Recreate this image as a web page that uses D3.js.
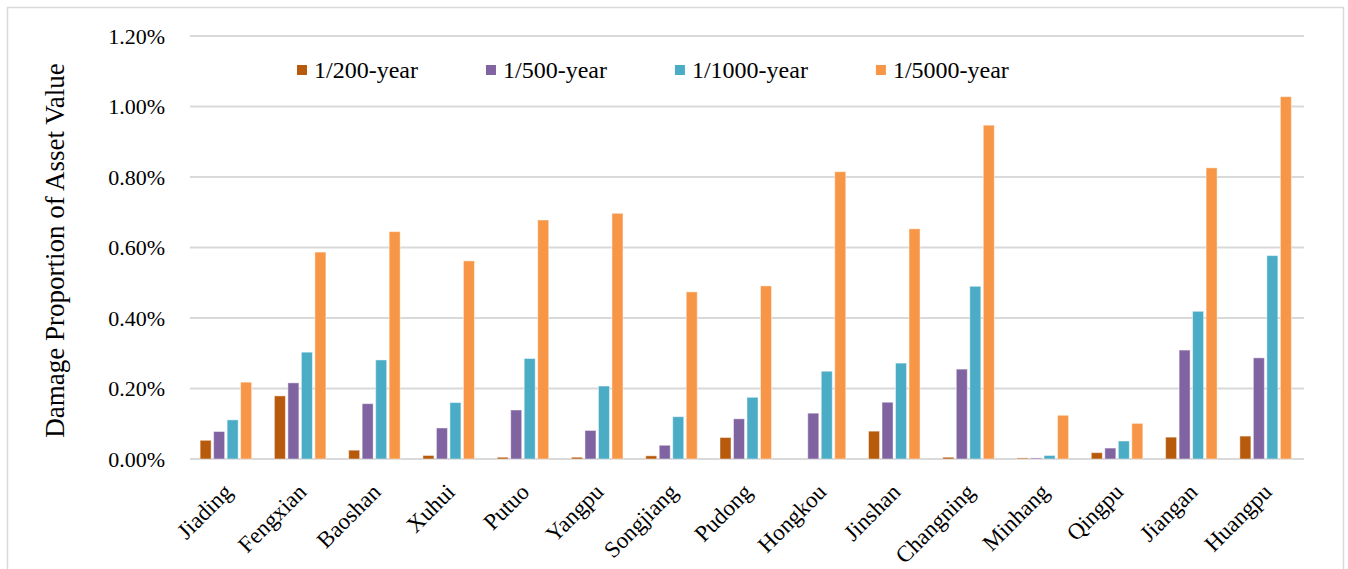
<!DOCTYPE html>
<meta charset="utf-8">

<head>
  <title>Damage proportion by district</title>
  <style>
    body { margin: 0; background: #fff; }
    svg text { font-family: "Liberation Serif", "Times New Roman", "DejaVu Serif", serif; fill: #000; }
  </style>
</head>

<body>
  <svg id="viz" width="1348" height="569"></svg>

  <script src="https://cdn.jsdelivr.net/npm/d3@7"></script>

  <script>
    // districts along the x axis
    var districts = ["Jiading", "Fengxian", "Baoshan", "Xuhui", "Putuo", "Yangpu", "Songjiang", "Pudong",
      "Hongkou", "Jinshan", "Changning", "Minhang", "Qingpu", "Jiangan", "Huangpu"];

    var seriesNames = ["1/200-year", "1/500-year", "1/1000-year", "1/5000-year"];

    // values in percent of asset value
    var rp200 = [0.053, 0.179, 0.025, 0.010, 0.005, 0.005, 0.009, 0.061, 0.000, 0.079, 0.005, 0.003, 0.018, 0.062, 0.065];
    var rp500 = [0.078, 0.216, 0.157, 0.088, 0.139, 0.081, 0.039, 0.114, 0.130, 0.161, 0.255, 0.003, 0.031, 0.309, 0.287];
    var rp1000 = [0.111, 0.303, 0.281, 0.160, 0.285, 0.207, 0.120, 0.175, 0.249, 0.272, 0.490, 0.010, 0.051, 0.419, 0.577];
    var rp5000 = [0.218, 0.587, 0.645, 0.562, 0.678, 0.697, 0.474, 0.491, 0.815, 0.653, 0.947, 0.124, 0.101, 0.826, 1.028];

    var yTicks = [0, 0.2, 0.4, 0.6, 0.8, 1.0, 1.2];

    var colors = ["#b85a0b", "#8064a2", "#4bacc6", "#f79646"];

    var serif = '"Liberation Serif", "Times New Roman", "DejaVu Serif", serif';

    function initChart() {
      var svg = d3.select("#viz").attr("font-family", serif);
      var allSeries = [rp200, rp500, rp1000, rp5000];

      var left = 190, right = 1304, top = 36, bottom = 459;

      // outer chart border
      svg.append("rect")
        .attr("x", 7.5).attr("y", 7.5)
        .attr("width", 1336).attr("height", 580)
        .attr("fill", "#fff")
        .attr("stroke", "#d9d9d9")
        .attr("stroke-width", 1.5);

      var x = d3.scaleBand()
        .domain(districts)
        .range([left, right])
        .paddingInner(0)
        .paddingOuter(0);

      var groupW = 54;
      var x1 = d3.scaleBand()
        .domain(d3.range(seriesNames.length))
        .range([-groupW / 2, groupW / 2]);

      var y = d3.scaleLinear()
        .domain([0, 1.2])
        .range([bottom, top]);

      // gridlines
      svg.append("g")
        .selectAll("line")
        .data(yTicks)
        .enter()
        .append("line")
        .attr("x1", left)
        .attr("x2", right)
        .attr("y1", d => y(d))
        .attr("y2", d => y(d))
        .attr("stroke", "#d9d9d9")
        .attr("stroke-width", 1.8);

      // y tick labels
      svg.append("g")
        .selectAll("text")
        .data(yTicks)
        .enter()
        .append("text")
        .attr("x", 165)
        .attr("y", d => y(d))
        .attr("dy", "0.35em")
        .attr("text-anchor", "end")
        .style("font-family", serif)
        .style("font-size", "22px")
        .text(d => d3.format(".2f")(d) + "%");

      // y title
      svg.append("text")
        .attr("transform", "translate(64," + ((top + bottom) / 2 + 3) + ") rotate(-90)")
        .attr("text-anchor", "middle")
        .style("font-family", serif)
        .style("font-size", "27px")
        .text("Damage Proportion of Asset Value");

      // bars
      var groups = svg.append("g")
        .selectAll("g")
        .data(districts)
        .enter()
        .append("g")
        .attr("transform", d => "translate(" + (x(d) + x.bandwidth() / 2 - 1) + ",0)");

      groups.selectAll("rect")
        .data((d, i) => allSeries.map((s, k) => ({ k: k, v: s[i] })))
        .enter()
        .append("rect")
        .attr("x", d => x1(d.k) + 1)
        .attr("width", x1.bandwidth() - 2.5)
        .attr("y", d => y(d.v))
        .attr("height", d => bottom - y(d.v))
        .attr("fill", d => colors[d.k])
        .attr("stroke", "#fff")
        .attr("stroke-opacity", 0.45)
        .attr("stroke-width", 1);

      // x labels
      svg.append("g")
        .selectAll("text")
        .data(districts)
        .enter()
        .append("text")
        .attr("transform", d => "translate(" + (x(d) + x.bandwidth() / 2 - 5) + ",482) rotate(-45)")
        .attr("text-anchor", "end")
        .attr("dy", "0.7em")
        .style("font-family", serif)
        .style("font-size", "23px")
        .text(d => d);

      // legend
      var lx = 297;
      seriesNames.forEach(function (name, k) {
        svg.append("rect")
          .attr("x", lx).attr("y", 65)
          .attr("width", 10).attr("height", 10)
          .attr("fill", colors[k]);
        var t = svg.append("text")
          .attr("x", lx + 17)
          .attr("y", 78)
          .style("font-family", serif)
          .style("font-size", "24px")
          .text(name);
        lx += 17 + t.node().getComputedTextLength() + 68;
      });
    }

    initChart();
  </script>
</body>

</html>
